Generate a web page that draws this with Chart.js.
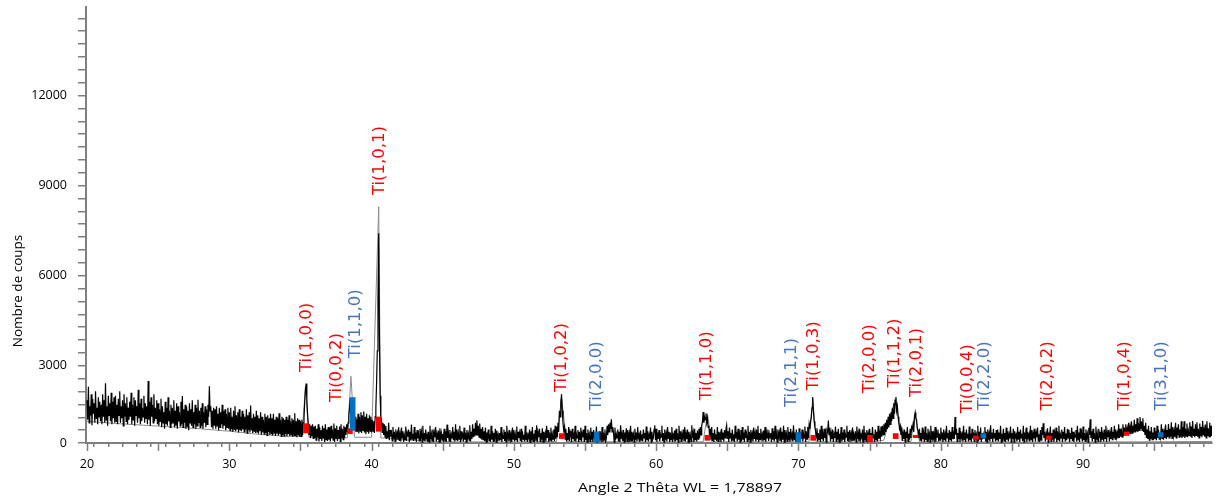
<!DOCTYPE html>
<html>
<head>
<meta charset="utf-8">
<script src="https://cdn.jsdelivr.net/npm/chart.js@4.4.1/dist/chart.umd.min.js"></script>
<style>
  html, body { margin: 0; padding: 0; background: #fff; }
  #wrap { width: 1216px; height: 499px; position: relative; }
</style>
</head>
<body>
<div id="wrap"><canvas id="xrd"></canvas></div>
<script>
// ============================================================
// Scan grid (2θ, degrees) and measured counts, one row per degree
// ============================================================
const twoThetaStart = 20.0;
const twoThetaStep = 0.05;

const measuredCounts = [
  1850, 1200, 2300, 1100, 1650, 1350, 2050, 1020, 1900, 1400, 1750, 1100, 2150, 1250, 1600, 1050, 1950, 1300, 1800, 1150, // 20
  1700, 1050, 2050, 1300, 1850, 1100, 2420, 1200, 1650, 1000, 2000, 1350, 1750, 1150, 2100, 1050, 1800, 1250, 1950, 1100, // 21
  2000, 1150, 1700, 1050, 1900, 1350, 2150, 1100, 1650, 1250, 1850, 1000, 2050, 1300, 1750, 1150, 1950, 1050, 1600, 1200, // 22
  1800, 1300, 2100, 1050, 1700, 1200, 1950, 1000, 1850, 1350, 1650, 1100, 2200, 1250, 1750, 1050, 1900, 1150, 1600, 1300, // 23
  2000, 1100, 1750, 1250, 1650, 1050, 2495, 1200, 1800, 1000, 1950, 1300, 1700, 1100, 2050, 1150, 1600, 1250, 1850, 1050, // 24
  1750, 1000, 1550, 1150, 1900, 950, 1650, 1100, 1450, 900, 1800, 1050, 1600, 1000, 1950, 1150, 1500, 950, 1700, 1050,    // 25
  1600, 1100, 1850, 950, 1500, 1000, 1750, 900, 1650, 1150, 1450, 1000, 1800, 1050, 1990, 950, 1550, 1100, 1700, 900,     // 26
  1650, 950, 1500, 850, 1750, 1100, 1550, 1000, 1850, 950, 1450, 1050, 1700, 900, 1600, 1000, 1870, 1100, 1500, 950,      // 27
  1600, 1000, 1750, 900, 1450, 1100, 1650, 950, 1550, 1050, 1700, 1300, 2318, 1500, 1650, 950, 1500, 900, 1600, 1000,     // 28
  1550, 900, 1650, 1000, 1400, 850, 1600, 950, 1450, 1050, 1700, 900, 1500, 1000, 1550, 850, 1400, 950, 1600, 900,        // 29
  1450, 850, 1600, 900, 1300, 800, 1500, 880, 1650, 820, 1350, 900, 1450, 780, 1550, 850, 1300, 820, 1500, 880,           // 30
  1400, 800, 1300, 880, 1550, 760, 1350, 850, 1450, 780, 1680, 850, 1250, 760, 1400, 820, 1300, 760, 1500, 800,           // 31
  1350, 740, 1250, 820, 1450, 700, 1300, 780, 1200, 720, 1400, 760, 1300, 680, 1350, 800, 1250, 700, 1400, 740,           // 32
  1250, 680, 1400, 760, 1200, 660, 1300, 740, 1250, 680, 1420, 720, 1200, 650, 1300, 700, 1250, 660, 1200, 730,           // 33
  1300, 650, 1200, 720, 1350, 660, 1150, 700, 1250, 640, 1200, 680, 1420, 660, 1150, 620, 1250, 680, 1200, 640,           // 34
  1150, 650, 1200, 700, 1100, 1250, 1800, 2200, 2408, 1900, 1400, 1050, 700, 1050, 600, 1000, 650, 1050, 580, 980,        // 35
  600, 1000, 520, 900, 620, 1050, 480, 950, 560, 850, 500, 1000, 600, 920, 460, 1050, 540, 880, 500, 960,                 // 36
  540, 950, 480, 1000, 600, 880, 520, 1080, 460, 920, 580, 1000, 500, 860, 560, 980, 480, 1050, 600, 900,                 // 37
  540, 1000, 600, 950, 700, 1050, 800, 1100, 1350, 1600, 1918, 1700, 1500, 1250, 900, 1350, 850, 1300, 800, 1220,         // 38
  800, 1400, 750, 1300, 820, 1450, 760, 1350, 850, 1480, 780, 1300, 720, 1400, 800, 1250, 740, 1350, 820, 1300,           // 39
  780, 1200, 820, 1150, 760, 1300, 1600, 2400, 3500, 5200, 7418, 4000, 2000, 1300, 1150, 780, 1100, 700, 1050, 620,       // 40
  1000, 560, 820, 600, 1100, 520, 860, 640, 760, 500, 960, 560, 800, 480, 880, 620, 760, 540, 950, 500,                   // 41
  720, 480, 940, 600, 820, 460, 700, 540, 980, 500, 760, 640, 880, 460, 800, 520, 1040, 560, 740, 500,                    // 42
  960, 540, 780, 460, 860, 580, 720, 500, 900, 620, 800, 460, 1000, 520, 760, 480, 880, 600, 700, 460,                    // 43
  800, 460, 1000, 560, 740, 500, 880, 460, 780, 620, 960, 480, 720, 540, 840, 460, 920, 580, 760, 520,                    // 44
  740, 560, 900, 480, 820, 460, 1040, 600, 760, 500, 860, 460, 700, 580, 960, 520, 800, 480, 1050, 540,                   // 45
  880, 500, 760, 560, 1000, 460, 820, 620, 700, 480, 940, 540, 780, 460, 860, 600, 740, 520, 1020, 480,                   // 46
  800, 560, 1050, 620, 900, 650, 1100, 700, 1185, 680, 1000, 620, 1080, 580, 900, 540, 960, 520, 820, 500,                // 47
  940, 460, 780, 600, 880, 500, 720, 460, 1000, 540, 820, 480, 760, 620, 900, 460, 840, 560, 700, 500,                    // 48
  760, 520, 960, 460, 700, 580, 880, 500, 800, 460, 1000, 600, 740, 480, 860, 540, 720, 460, 940, 560,                    // 49
  860, 480, 720, 540, 980, 460, 800, 600, 760, 500, 900, 460, 820, 560, 700, 480, 1000, 520, 780, 460,                    // 50
  700, 600, 880, 460, 820, 520, 960, 480, 740, 560, 860, 500, 1020, 460, 780, 620, 900, 480, 760, 540,                    // 51
  920, 460, 800, 560, 740, 480, 1000, 600, 860, 460, 780, 520, 940, 480, 720, 560, 880, 500, 1000, 560,                   // 52
  960, 620, 1100, 800, 1500, 1300, 1800, 2052, 1500, 1100, 850, 960, 560, 900, 480, 760, 520, 960, 500, 820,              // 53
  740, 460, 900, 560, 780, 500, 1000, 480, 720, 600, 860, 460, 800, 540, 940, 480, 760, 620, 880, 460,                    // 54
  1000, 520, 760, 460, 880, 580, 720, 480, 940, 540, 800, 460, 860, 600, 740, 500, 980, 460, 780, 560,                    // 55
  820, 480, 700, 560, 960, 460, 780, 520, 880, 480, 600, 1000, 700, 1050, 800, 1100, 900, 1220, 800, 960,                 // 56
  760, 460, 940, 540, 720, 600, 880, 480, 800, 460, 1020, 560, 740, 500, 860, 460, 780, 620, 920, 480,                    // 57
  860, 560, 740, 460, 1000, 500, 800, 580, 720, 460, 900, 540, 780, 480, 960, 600, 700, 460, 840, 520,                    // 58
  720, 480, 880, 600, 760, 460, 980, 520, 820, 480, 700, 560, 940, 460, 800, 540, 600, 880, 1020, 520,                    // 59
  900, 460, 780, 560, 860, 480, 720, 620, 1000, 500, 760, 460, 880, 540, 740, 480, 960, 580, 800, 460,                    // 60
  780, 540, 960, 460, 700, 600, 840, 480, 900, 520, 760, 460, 1000, 560, 820, 480, 720, 620, 880, 500,                    // 61
  960, 480, 740, 560, 880, 460, 800, 540, 700, 480, 1020, 600, 780, 460, 900, 520, 760, 480, 840, 560,                    // 62
  900, 600, 960, 700, 1000, 1150, 1462, 1100, 1300, 1200, 1420, 1100, 1250, 950, 1000, 700, 900, 540, 960, 500,           // 63
  760, 460, 880, 560, 720, 500, 960, 480, 800, 600, 740, 460, 900, 540, 780, 480, 860, 600, 880, 1020,                    // 64
  560, 820, 460, 940, 600, 760, 480, 880, 520, 720, 460, 1000, 580, 800, 480, 900, 540, 740, 460, 860,                    // 65
  500, 960, 540, 780, 460, 880, 600, 720, 480, 1000, 520, 800, 460, 860, 580, 740, 480, 940, 560, 760,                    // 66
  480, 880, 560, 1000, 460, 760, 540, 900, 600, 720, 480, 840, 520, 960, 460, 780, 600, 880, 500, 740,                    // 67
  600, 760, 460, 920, 540, 820, 480, 1000, 560, 740, 460, 880, 620, 780, 500, 940, 460, 800, 540, 1000,                   // 68
  460, 860, 580, 740, 480, 960, 520, 800, 460, 900, 600, 720, 480, 1020, 540, 780, 460, 880, 560, 760,                    // 69
  500, 920, 460, 780, 560, 880, 480, 740, 600, 980, 460, 820, 560, 960, 600, 1050, 900, 1150, 1300, 1600,                 // 70
  1962, 1500, 1150, 960, 850, 600, 920, 480, 760, 540, 880, 460, 1000, 560, 740, 480, 900, 600, 780, 460,                 // 71
  860, 800, 1180, 700, 940, 480, 760, 560, 880, 460, 720, 600, 980, 480, 800, 540, 900, 460, 740, 580,                    // 72
  960, 480, 780, 540, 880, 460, 720, 620, 1000, 500, 800, 460, 860, 580, 740, 480, 940, 520, 700, 600,                    // 73
  820, 460, 980, 560, 760, 480, 900, 540, 700, 600, 880, 460, 1000, 520, 780, 480, 860, 560, 740, 460,                    // 74
  900, 520, 760, 480, 960, 600, 720, 460, 880, 540, 800, 480, 1000, 560, 760, 600, 980, 640, 1000, 700,                   // 75
  1050, 700, 1100, 800, 1200, 900, 1300, 950, 1400, 1050, 1450, 1150, 1600, 1250, 1750, 1400, 1850, 1962, 1500, 1650,     // 76
  1300, 1100, 900, 1000, 700, 940, 500, 760, 560, 880, 460, 800, 600, 960, 480, 740, 540, 900, 600, 960,                  // 77
  900, 1050, 800, 1300, 1442, 1250, 1200, 900, 850, 600, 900, 520, 760, 480, 940, 560, 720, 460, 980, 520,                // 78
  760, 480, 900, 600, 740, 460, 1000, 540, 820, 480, 720, 560, 960, 460, 800, 620, 880, 480, 740, 520,                    // 79
  940, 560, 780, 460, 880, 520, 720, 480, 1000, 600, 760, 460, 860, 540, 800, 480, 960, 560, 720, 560,                    // 80
  1295, 700, 900, 480, 760, 560, 940, 460, 820, 600, 720, 480, 1000, 540, 780, 460, 880, 600, 740, 480,                   // 81
  980, 520, 740, 460, 900, 580, 780, 480, 860, 620, 720, 460, 1000, 500, 800, 540, 940, 460, 760, 560,                    // 82
  720, 600, 960, 480, 800, 460, 880, 540, 740, 480, 1020, 560, 780, 460, 900, 600, 760, 480, 860, 520,                    // 83
  880, 480, 780, 560, 1000, 460, 740, 600, 900, 500, 760, 460, 940, 540, 820, 480, 720, 580, 980, 460,                    // 84
  760, 560, 900, 460, 820, 620, 700, 480, 960, 540, 800, 460, 880, 600, 740, 500, 1000, 460, 780, 560,                    // 85
  940, 460, 800, 600, 720, 480, 1000, 540, 860, 460, 760, 580, 900, 480, 780, 620, 940, 500, 720, 460,                    // 86
  860, 520, 960, 700, 1085, 600, 800, 480, 740, 560, 920, 460, 780, 600, 980, 480, 760, 540, 880, 460,                    // 87
  760, 580, 940, 460, 820, 540, 1000, 480, 720, 600, 880, 460, 800, 560, 960, 480, 740, 520, 900, 600,                    // 88
  880, 460, 760, 560, 940, 500, 800, 460, 720, 620, 860, 480, 1000, 540, 780, 460, 920, 580, 740, 480,                    // 89
  980, 520, 760, 480, 880, 600, 740, 460, 940, 700, 1220, 600, 820, 480, 900, 560, 760, 460, 980, 540,                    // 90
  740, 480, 900, 600, 800, 460, 960, 540, 720, 480, 880, 580, 1000, 460, 780, 620, 860, 480, 760, 560,                    // 91
  960, 540, 800, 600, 1000, 560, 880, 620, 760, 580, 1050, 600, 900, 640, 820, 620, 1050, 660, 940, 700,                  // 92
  1050, 700, 900, 680, 1100, 740, 960, 720, 1150, 760, 1000, 780, 1200, 800, 1050, 820, 1250, 800, 1100, 850,             // 93
  1295, 900, 1150, 850, 1250, 800, 1000, 700, 1100, 600, 880, 560, 1000, 520, 820, 560, 960, 540, 780, 520,               // 94
  940, 560, 820, 520, 1000, 600, 880, 560, 760, 620, 1050, 580, 900, 540, 800, 600, 1040, 560, 860, 620,                  // 95
  1060, 600, 900, 640, 1120, 580, 960, 660, 840, 620, 1100, 600, 940, 680, 1050, 620, 880, 640, 1150, 600,                // 96
  960, 640, 1150, 600, 900, 660, 1080, 620, 840, 680, 1120, 640, 980, 600, 1160, 660, 900, 620, 1050, 680,                // 97
  1120, 640, 900, 600, 1080, 660, 960, 620, 1160, 680, 880, 640, 1040, 600, 1150, 660, 920, 640, 1100, 620,               // 98
  1000, 660, 1080                                                                                                           // 99
];

// Calculated profile (grey line)
const profileAngles = [20, 22, 24, 26, 28, 30, 32, 34, 35.1, 35.35, 35.6, 37, 38.3, 38.55, 38.8,
  40.0, 40.5, 40.65, 42, 45, 50, 53.0, 53.35, 53.7, 60, 63.3, 63.6, 63.9, 70, 70.75, 71.0, 71.25,
  75, 76.0, 76.8, 77.3, 77.9, 78.2, 78.5, 85, 90, 95, 99.1];
const profileCounts = [1150, 1080, 1020, 960, 900, 820, 720, 650, 640, 2300, 620, 580, 600, 2651, 620,
  620, 8295, 600, 540, 470, 460, 480, 1950, 480, 460, 470, 1400, 470, 460, 470, 1900, 470,
  460, 520, 1900, 520, 470, 1400, 470, 460, 460, 470, 480];

// Reference sticks: phase 'hcp' (red) or 'bcc' (blue)
const refAngles = [35.39, 38.48, 38.67, 40.5, 53.36, 55.82, 63.6, 69.99, 71.04, 75.02, 76.83, 78.23, 82.47, 82.99, 87.6, 93.06, 95.45];
const refLow    = [762, 742, 852, 818, 575, 462, 518, 462, 518, 462, 575, 608, 552, 595, 552, 685, 628];
const refHigh   = [1075, 908, 1942, 1295, 742, 795, 685, 775, 685, 685, 742, 685, 662, 742, 662, 795, 775];
const refPhase  = ['hcp', 'hcp', 'bcc', 'hcp', 'hcp', 'bcc', 'hcp', 'bcc', 'hcp', 'hcp', 'hcp', 'hcp', 'hcp', 'bcc', 'hcp', 'hcp', 'bcc'];

// Peak labels
const labelTexts  = ['Ti(1,0,0)', 'Ti(0,0,2)', 'Ti(1,1,0)', 'Ti(1,0,1)', 'Ti(1,0,2)', 'Ti(2,0,0)', 'Ti(1,1,0)', 'Ti(2,1,1)', 'Ti(1,0,3)',
  'Ti(2,0,0)', 'Ti(1,1,2)', 'Ti(2,0,1)', 'Ti(0,0,4)', 'Ti(2,2,0)', 'Ti(2,0,2)', 'Ti(1,0,4)', 'Ti(3,1,0)'];
const labelAngles = [35.44, 37.55, 38.9, 40.59, 53.36, 55.82, 63.55, 69.52, 71.04, 75.02, 76.73, 78.3, 81.86, 83.1, 87.55, 92.94, 95.52];
const labelCounts = [2795, 1795, 3251, 8685, 2128, 1518, 1852, 1628, 2185, 2085, 2275, 1962, 1418, 1518, 1518, 1518, 1518];
const labelPhase  = ['hcp', 'hcp', 'bcc', 'hcp', 'hcp', 'bcc', 'hcp', 'bcc', 'hcp', 'hcp', 'hcp', 'hcp', 'hcp', 'bcc', 'hcp', 'hcp', 'bcc'];

const yTickValues = [0, 3000, 6000, 9000, 12000];

// ============================================================
// Styling
// ============================================================
const AXIS_GREY = '#7f7f7f';
const stickColor = { hcp: '#ff0000', bcc: '#0070c0' };
const labelColor = { hcp: '#ff0000', bcc: '#4472c4' };
const minorY = 3000 / 7;

const measured = measuredCounts.map((c, i) => ({ x: +(twoThetaStart + i * twoThetaStep).toFixed(2), y: c }));
const profile = profileAngles.map((a, i) => ({ x: a, y: profileCounts[i] }));
const sticks = refAngles.map((a, i) => ({ x: a, y: [refLow[i], refHigh[i]] }));

// no label overhang padding, the plot box is fixed
function zeroPad(s) {
  s.paddingTop = 0; s.paddingBottom = 0; s.paddingLeft = 0; s.paddingRight = 0;
}

// long ticks every 5 degrees + axis titles
const extrasPlugin = {
  id: 'extras',
  afterDraw(chart) {
    const { ctx, scales: { x } } = chart;
    ctx.save();
    ctx.strokeStyle = AXIS_GREY;
    ctx.lineWidth = 1.5;
    x.ticks.forEach(t => {
      if (t.value % 5 !== 0) return;
      const px = Math.round(x.getPixelForValue(t.value)) + 0.5;
      ctx.beginPath();
      ctx.moveTo(px, x.top);
      ctx.lineTo(px, x.top + 8);
      ctx.stroke();
    });
    ctx.fillStyle = '#000';
    ctx.font = '13.5px "Open Sans"';
    ctx.textAlign = 'center';
    ctx.textBaseline = 'middle';
    ctx.save();
    ctx.translate(680, 488);
    ctx.scale(1.18, 1);
    ctx.fillText('Angle 2 Thêta WL = 1,78897', 0, 0);
    ctx.restore();
    ctx.translate(18, 291);
    ctx.rotate(-Math.PI / 2);
    ctx.fillText('Nombre de coups', 0, 0);
    ctx.restore();
  }
};

// rotated peak labels
const peakLabelPlugin = {
  id: 'peakLabels',
  afterDatasetsDraw(chart) {
    const { ctx, scales: { x, y } } = chart;
    ctx.save();
    ctx.font = '16.5px "DejaVu Sans"';
    ctx.textAlign = 'left';
    ctx.textBaseline = 'middle';
    labelTexts.forEach((t, i) => {
      const px = x.getPixelForValue(labelAngles[i]);
      const py = y.getPixelForValue(labelCounts[i]);
      ctx.setTransform(1, 0, 0, 1, 0, 0);
      ctx.translate(px, py);
      ctx.rotate(-Math.PI / 2);
      ctx.fillStyle = labelColor[labelPhase[i]];
      ctx.fillText(t, 0, 0);
    });
    ctx.restore();
  }
};

new Chart(document.getElementById('xrd'), {
  type: 'line',
  data: {
    datasets: [
      {
        type: 'bar',
        data: sticks,
        backgroundColor: refPhase.map(p => stickColor[p]),
        borderWidth: 0,
        barThickness: 5,
        grouped: false,
        order: 0
      },
      {
        data: measured,
        borderColor: '#000',
        borderWidth: 1.2,
        pointRadius: 0,
        tension: 0,
        order: 1
      },
      {
        data: profile,
        borderColor: '#8c8c8c',
        borderWidth: 1,
        pointRadius: 0,
        tension: 0,
        order: 2
      }
    ]
  },
  options: {
    responsive: true,
    maintainAspectRatio: false,
    animation: false,
    events: [],
    layout: { padding: { left: 0, right: 4, top: 7, bottom: 0 } },
    plugins: { legend: { display: false }, tooltip: { enabled: false } },
    scales: {
      x: {
        type: 'linear',
        min: 19.93,
        max: 99.06,
        offset: false,
        afterFit: s => { s.height = 56; zeroPad(s); },
        afterBuildTicks: s => {
          const t = [];
          for (let v = 20; v <= 99; v++) t.push({ value: v });
          s.ticks = t;
        },
        grid: { drawOnChartArea: false, drawTicks: true, tickLength: 4, color: AXIS_GREY, lineWidth: 1.5 },
        border: { display: true, color: AXIS_GREY, width: 2 },
        ticks: {
          autoSkip: false,
          maxRotation: 0,
          padding: 10,
          color: '#000',
          font: { family: 'Open Sans', size: 12.5 },
          callback: v => (v % 10 === 0 ? String(v) : '')
        }
      },
      y: {
        type: 'linear',
        min: minorY,
        max: 14950,
        beginAtZero: false,
        afterFit: s => { s.width = 86; zeroPad(s); },
        afterBuildTicks: s => {
          const t = [];
          for (let k = 1; k <= 34; k++) t.push({ value: k * minorY });
          s.ticks = t;
        },
        grid: { drawOnChartArea: false, drawTicks: true, tickLength: 8, color: AXIS_GREY, lineWidth: 1.5 },
        border: { display: true, color: AXIS_GREY, width: 2 },
        ticks: {
          autoSkip: false,
          padding: 11,
          color: '#000',
          font: { family: 'Open Sans', size: 12.5 },
          callback: (v, i) => {
            const k = i + 1;
            if (k === 1) return String(yTickValues[0]);
            return k % 7 === 0 ? String(yTickValues[k / 7]) : '';
          }
        }
      }
    }
  },
  plugins: [peakLabelPlugin, extrasPlugin]
});
</script>
</body>
</html>
